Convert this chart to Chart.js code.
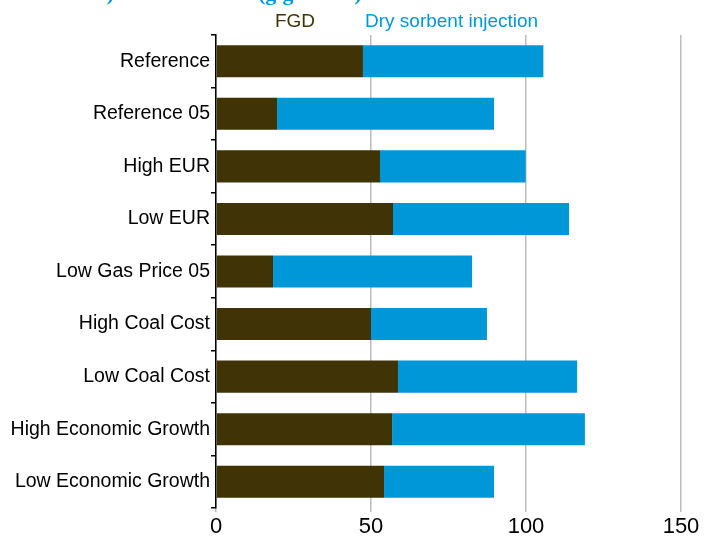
<!DOCTYPE html>
<html>
<head>
<meta charset="utf-8">
<script src="https://cdn.jsdelivr.net/npm/chart.js@4/dist/chart.umd.min.js"></script>
<style>
  html, body { margin: 0; padding: 0; background: #fff; }
  #wrap { width: 704px; height: 539px; position: relative; }
</style>
</head>
<body>
<div id="wrap"><canvas id="graficoRetrofit"></canvas></div>
<script>
const scenari = [
    'Reference',
    'Reference 05',
    'High EUR',
    'Low EUR',
    'Low Gas Price 05',
    'High Coal Cost',
    'Low Coal Cost',
    'High Economic Growth',
    'Low Economic Growth'
];
const fgd = [47.4, 19.7, 52.9, 57.1, 18.4, 50.0, 58.7, 56.8, 54.2];
const dsi = [58.2, 70.0, 47.0, 56.8, 64.2, 37.4, 57.8, 62.2, 35.5];
const xTicks = [0, 50, 100, 150];

const coloreFGD = '#403306';
const coloreDSI = '#0097d9';

// titolo tagliato in alto + legenda testuale
const testiPlugin = {
    id: 'testi',
    afterDraw(chart) {
        const ctx = chart.ctx;
        ctx.save();
        ctx.fillStyle = coloreDSI;
        ctx.font = 'bold 22px "Liberation Serif"';
        ctx.textBaseline = 'alphabetic';
        ctx.textAlign = 'right';
        ctx.fillText('(cumulative additions 2012-2040)', 114, 0);
        ctx.textAlign = 'left';
        ctx.fillText('(gigawatts)', 258, 0);

        ctx.font = '19px "Liberation Sans"';
        ctx.textBaseline = 'middle';
        ctx.textAlign = 'center';
        ctx.fillStyle = coloreFGD;
        ctx.fillText('FGD', 295, 21.5);
        ctx.textAlign = 'left';
        ctx.fillStyle = coloreDSI;
        ctx.fillText('Dry sorbent injection', 365, 21.5);
        ctx.restore();
    }
};

const canvas = document.getElementById('graficoRetrofit');
new Chart(canvas, {
    type: 'bar',
    data: {
        labels: scenari,
        datasets: [{
            label: 'FGD',
            data: fgd,
            backgroundColor: coloreFGD,
            barPercentage: 1,
            categoryPercentage: 0.61
        }, {
            label: 'Dry sorbent injection',
            data: dsi,
            backgroundColor: coloreDSI,
            barPercentage: 1,
            categoryPercentage: 0.61
        }]
    },
    options: {
        indexAxis: 'y',
        responsive: true,
        maintainAspectRatio: false,
        animation: false,
        layout: { padding: { top: 35, right: 23, left: 0, bottom: 0 } },
        scales: {
            x: {
                stacked: true,
                min: 0,
                max: 150,
                afterBuildTicks: (scale) => { scale.ticks = xTicks.map(v => ({ value: v })); },
                afterFit: (scale) => { scale.height = 31; },
                border: { display: false },
                grid: {
                    color: '#bbbbbb',
                    lineWidth: 1.5,
                    tickLength: 4
                },
                ticks: {
                    color: '#000',
                    padding: 2,
                    font: { family: 'Liberation Sans', size: 22 }
                }
            },
            y: {
                stacked: true,
                afterFit: (scale) => { scale.width = 216; },
                border: { display: true, color: '#000', width: 1.5 },
                grid: {
                    offset: true,
                    drawOnChartArea: false,
                    color: '#000',
                    lineWidth: 1.5,
                    tickLength: 5
                },
                ticks: {
                    color: '#000',
                    padding: 1,
                    font: { family: 'Liberation Sans', size: 19.5 }
                }
            }
        },
        plugins: {
            legend: { display: false },
            tooltip: { enabled: false }
        }
    },
    plugins: [testiPlugin]
});
</script>
</body>
</html>
